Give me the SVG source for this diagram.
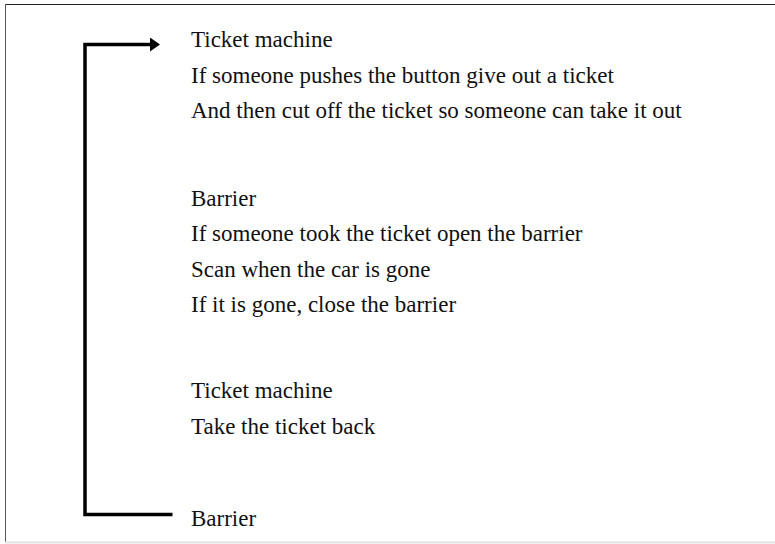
<svg xmlns="http://www.w3.org/2000/svg" width="775" height="544" viewBox="0 0 775 544">
<style>
text { font-family: "Liberation Serif", "Times New Roman", serif; font-size: 23px; fill: #111; }
.conn { fill: none; stroke: #000; stroke-width: 3.5; }
</style>
<defs>
<marker id="ah" markerWidth="10" markerHeight="14" refX="0" refY="7" orient="auto" markerUnits="userSpaceOnUse">
<path d="M0,0 L10,7 L0,14 Z" fill="#000"/>
</marker>
</defs>
<rect x="0" y="0" width="775" height="544" fill="#fff"/>
<line x1="5" y1="4.5" x2="775" y2="4.5" stroke="#222" stroke-width="1"/>
<line x1="5.5" y1="4" x2="5.5" y2="542" stroke="#555" stroke-width="1"/>
<line x1="5" y1="542.5" x2="775" y2="542.5" stroke="#e2e2e2" stroke-width="2"/>
<g id="connectors">
<path class="conn" d="M172.5,514.5 H85 V44.5 H150" marker-end="url(#ah)"/>
</g>
<g id="ticket-machine-1">
<text x="191" y="47">Ticket machine</text>
<text x="191" y="82.5">If someone pushes the button give out a ticket</text>
<text x="191" y="118">And then cut off the ticket so someone can take it out</text>
</g>
<g id="barrier-1">
<text x="191" y="205.5">Barrier</text>
<text x="191" y="241">If someone took the ticket open the barrier</text>
<text x="191" y="276.5">Scan when the car is gone</text>
<text x="191" y="312">If it is gone, close the barrier</text>
</g>
<g id="ticket-machine-2">
<text x="191" y="398">Ticket machine</text>
<text x="191" y="433.5">Take the ticket back</text>
</g>
<g id="barrier-2">
<text x="191" y="526">Barrier</text>
</g>
</svg>
